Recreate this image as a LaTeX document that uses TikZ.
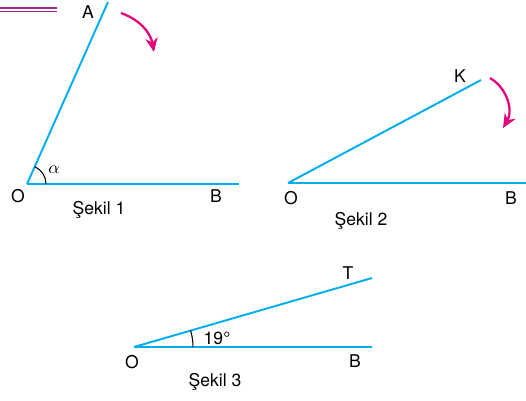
\documentclass[tikz,border=0pt]{standalone}
\usepackage{fontspec}
\setmainfont{TeX Gyre Heros}
\usepackage{xcolor}
\usetikzlibrary{arrows.meta}

\definecolor{rayblue}{RGB}{0,174,239}
\definecolor{turnpink}{RGB}{230,0,126}
\definecolor{headpurple}{RGB}{160,40,140}

\begin{document}
\begin{tikzpicture}[
    x=0.02cm, y=-0.02cm,
    ray/.style={draw=rayblue, line width=1.1pt},
    turn/.style={-{Stealth[length=8pt, width=7pt]}, draw=turnpink, line width=1.3pt},
    anglearc/.style={draw=black, line width=0.6pt},
    lbl/.style={font=\fontsize{10}{12}\selectfont, inner sep=0pt},
    caption/.style={font=\fontsize{10}{12}\selectfont, inner sep=0pt}
]
\useasboundingbox (0,0) rectangle (526,400);

% Header rule (cut off)
\draw[headpurple, line width=0.75pt] (0,8) -- (57,8);
\draw[headpurple, line width=0.75pt] (0,11.5) -- (57,11.5);

% Figure 1
\coordinate (O1) at (27,184);
\coordinate (B1) at (239,184);
\coordinate (A1) at (108,2);
\draw[ray] (O1) -- (B1);
\draw[ray] (O1) -- (A1);
\draw[anglearc] ([shift={(0:19)}]O1) arc[start angle=0, end angle=66, radius=19*0.02cm];
\node[lbl] (a1) at (88,12) {A};
\node[lbl] (o1) at (18,196) {O};
\node[lbl] (b1) at (216,196) {B};
\node[lbl] (alpha) at (54,170) {$\alpha$};
\node[caption] (cap1) at (99,210) {Şekil 1};
\coordinate (t1s) at (121,13);
\coordinate (t1e) at (154,52);
\draw[turn] (t1s) to[bend left=30] (t1e);

% Figure 2
\coordinate (O2) at (288,183);
\coordinate (B2) at (526,183);
\coordinate (K2) at (481,80);
\draw[ray] (O2) -- (B2);
\draw[ray] (O2) -- (K2);
\node[lbl] (k2) at (460,76) {K};
\node[lbl] (o2) at (291,198) {O};
\node[lbl] (b2) at (511,198) {B};
\node[caption] (cap2) at (361,221) {Şekil 2};
\coordinate (t2s) at (490,78);
\coordinate (t2e) at (503,128);
\draw[turn] (t2s) to[bend left=45] (t2e);

% Figure 3
\coordinate (O3) at (134,347);
\coordinate (B3) at (372,347);
\coordinate (T3) at (372,278);
\draw[ray] (O3) -- (B3);
\draw[ray] (O3) -- (T3);
\draw[anglearc] ([shift={(0:59)}]O3) arc[start angle=0, end angle=16.4, radius=59*0.02cm];
\node[lbl] (t3) at (348,273) {T};
\node[lbl] (o3) at (132,362) {O};
\node[lbl] (b3) at (355,361) {B};
\node[lbl] (deg) at (217,338) {19°};
\node[caption] (cap3) at (215,382) {Şekil 3};

\end{tikzpicture}
\end{document}
